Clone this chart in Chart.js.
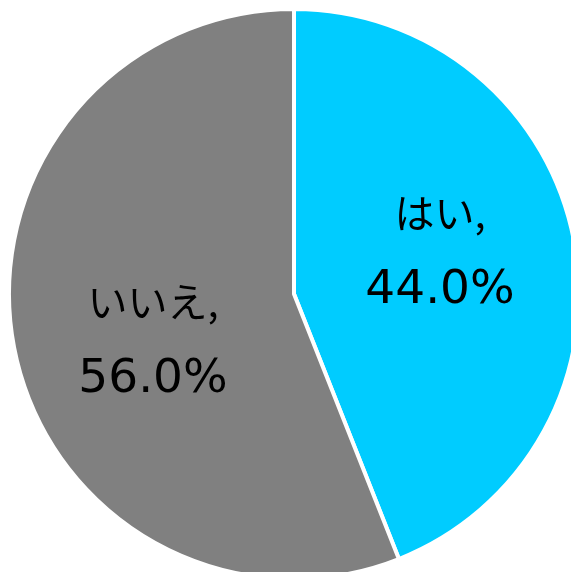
<!DOCTYPE html>
<html>
<head>
<meta charset="utf-8">
<script src="https://cdn.jsdelivr.net/npm/chart.js@4/dist/chart.umd.min.js"></script>
<style>
  html, body { margin:0; padding:0; overflow:hidden; background:#fff; }
  #wrap { position:absolute; left:0; top:0; width:588px; height:588px; }
</style>
</head>
<body>
<div id="wrap"><canvas id="pie"></canvas></div>
<script>
const labels = ['はい', 'いいえ'];
const values = [44.0, 56.0]; // %
const colors = ['#00CCFF', '#808080'];

// label nudges from the arc midpoint (px)
const nudge = [[6, -16], [-1, 20]];

const pieLabels = {
  id: 'pieLabels',
  afterDatasetsDraw(chart) {
    const ctx = chart.ctx;
    const arcs = chart.getDatasetMeta(0).data;
    ctx.save();
    ctx.fillStyle = '#000';
    ctx.textAlign = 'center';
    ctx.textBaseline = 'middle';
    arcs.forEach((arc, i) => {
      const p = arc.getProps(['x', 'y', 'startAngle', 'endAngle', 'outerRadius']);
      const mid = (p.startAngle + p.endAngle) / 2;
      const r = p.outerRadius / 2;
      const cx = p.x + Math.cos(mid) * r + nudge[i][0];
      const cy = p.y + Math.sin(mid) * r + nudge[i][1];
      ctx.font = '40px "Noto Sans CJK JP", sans-serif';
      ctx.fillText(labels[i] + ',', cx, cy - 39);
      ctx.font = '47px "DejaVu Sans", sans-serif';
      ctx.fillText(values[i].toFixed(1) + '%', cx, cy + 39);
    });
    ctx.restore();
  }
};

new Chart(document.getElementById('pie'), {
  type: 'pie',
  data: {
    labels: labels,
    datasets: [{
      data: values,
      backgroundColor: colors,
      borderColor: '#ffffff',
      borderWidth: 4
    }]
  },
  options: {
    responsive: true,
    maintainAspectRatio: false,
    animation: false,
    radius: 285,
    layout: { padding: 0 },
    plugins: { legend: { display: false }, tooltip: { enabled: false } }
  },
  plugins: [pieLabels]
});
</script>
</body>
</html>
